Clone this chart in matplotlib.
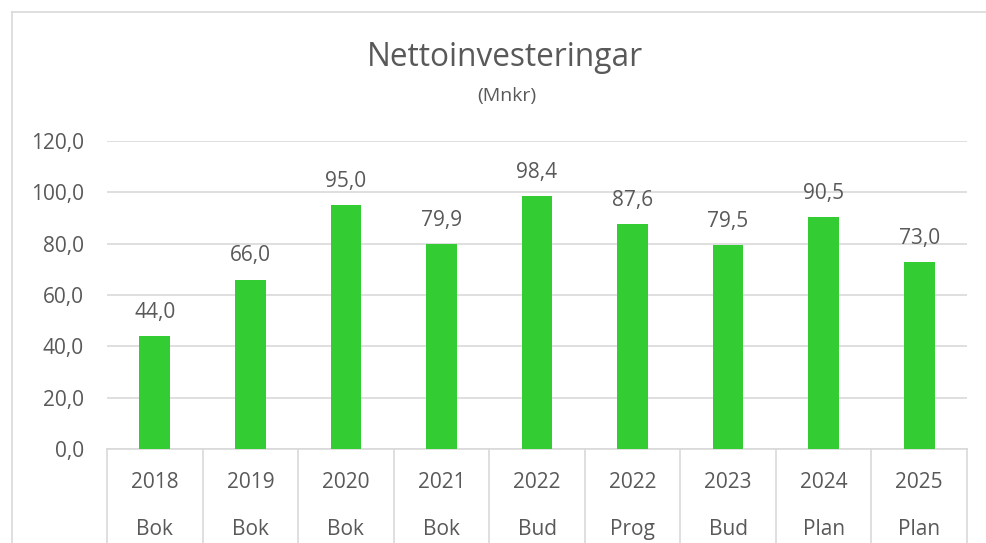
import matplotlib
matplotlib.use("Agg")
import matplotlib.pyplot as plt
from matplotlib.lines import Line2D

years = ["2018", "2019", "2020", "2021", "2022", "2022", "2023", "2024", "2025"]
kinds = ["Bok", "Bok", "Bok", "Bok", "Bud", "Prog", "Bud", "Plan", "Plan"]
values = [44.0, 66.0, 95.0, 79.9, 98.4, 87.6, 79.5, 90.5, 73.0]
yticks = [0, 20, 40, 60, 80, 100, 120]

plt.rcParams['font.family'] = ['Open Sans', 'DejaVu Sans']
TXT = "#595959"
GRID = "#D9D9D9"
GREEN = "#33CC33"
FS = 15

W, H = 987, 543
fig = plt.figure(figsize=(W/100, H/100), dpi=100)
ax = fig.add_axes([107/W, (H-449)/H, (967-107)/W, (449-141)/H])

x = list(range(len(values)))
ax.bar(x, values, width=0.32, color=GREEN, zorder=3)
ax.set_xlim(-0.5, len(values)-0.5)
ax.set_ylim(0, 120)
ax.set_yticks(yticks)
ax.set_yticklabels([f"{v:.1f}".replace(".", ",") for v in yticks], color=TXT, fontsize=FS)
ax.tick_params(axis='y', length=0, pad=16.5)
ax.set_xticks([])
ax.grid(axis='y', color=GRID, linewidth=1.2, zorder=0)
for s in ['top', 'right', 'left']:
    ax.spines[s].set_visible(False)
ax.spines['bottom'].set_color(GRID)
ax.spines['bottom'].set_linewidth(1.2)

for xi, v in zip(x, values):
    ax.annotate(f"{v:.1f}".replace(".", ","), (xi, v), xytext=(0, 17),
                textcoords="offset points", ha='center', va='center',
                color=TXT, fontsize=FS)

trans = ax.get_xaxis_transform()
for b in [i - 0.5 for i in range(len(values)+1)]:
    ax.add_line(Line2D([b, b], [0, -0.4], transform=trans, color=GRID,
                       linewidth=1.2, clip_on=False))
for xi, yr, k in zip(x, years, kinds):
    ax.text(xi, -0.11, yr, transform=trans, ha='center', va='center', color=TXT, fontsize=FS)
    ax.text(xi, -0.262, k, transform=trans, ha='center', va='center', color=TXT, fontsize=FS)

fig.text(505/W, 1-58/H, "Nettoinvesteringar", ha='center', va='center', color=TXT, fontsize=22.8)
fig.text(507/W, 1-96/H, "(Mnkr)", ha='center', va='center', color=TXT, fontsize=14)

fig.add_artist(Line2D([12/W, 12/W], [0, 1-12/H], transform=fig.transFigure, color=GRID, linewidth=1.2))
fig.add_artist(Line2D([12/W, 1], [1-12/H, 1-12/H], transform=fig.transFigure, color=GRID, linewidth=1.2))

fig.savefig("out.png", dpi=100)
